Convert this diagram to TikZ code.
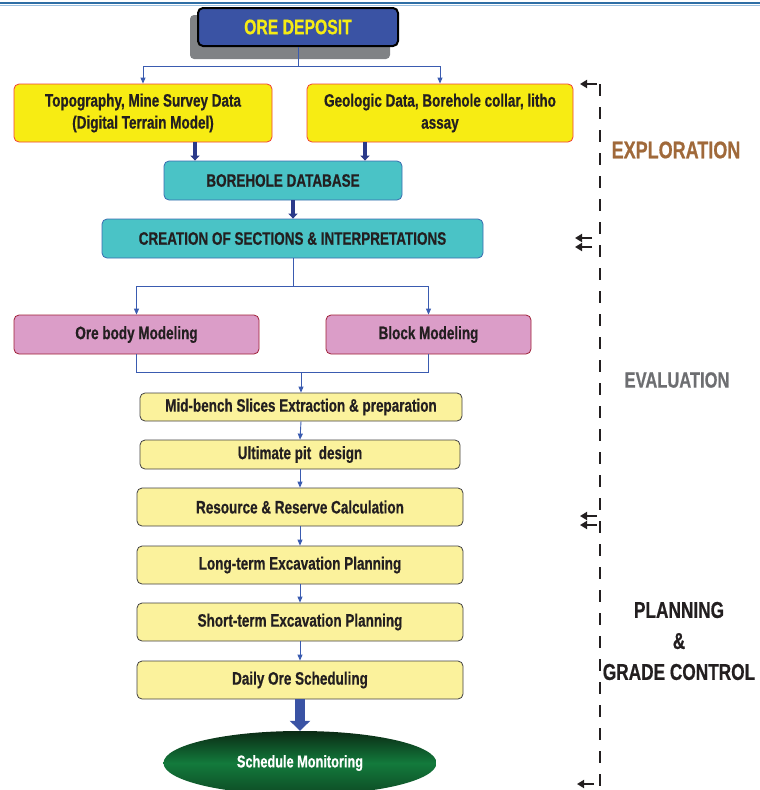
\documentclass[tikz,border=0pt]{standalone}
\usepackage{fontspec}
\setmainfont[FakeStretch=0.75,BoldFeatures={FakeStretch=0.75,FakeBold=0.6}]{Liberation Sans}
\usetikzlibrary{arrows.meta,shapes.geometric,calc}
\definecolor{oreblue}{HTML}{3A53A4}
\definecolor{oreyel}{HTML}{F5EB14}
\definecolor{yel}{HTML}{F7EC13}
\definecolor{redb}{HTML}{EF4136}
\definecolor{teal}{HTML}{4AC3C6}
\definecolor{tealb}{HTML}{3A6BB0}
\definecolor{pink}{HTML}{DB9DC8}
\definecolor{pinkb}{HTML}{9E1F36}
\definecolor{lyel}{HTML}{FBF29C}
\definecolor{lyelb}{HTML}{414042}
\definecolor{txt}{HTML}{231F20}
\definecolor{conn}{HTML}{3A5BB0}
\definecolor{navy}{HTML}{2B3A8A}
\definecolor{shadowg}{HTML}{808285}
\definecolor{brown}{HTML}{A0693A}
\definecolor{evalg}{HTML}{6D6E71}
\definecolor{rule}{HTML}{2F6EA5}
\definecolor{rulel}{HTML}{9CC0E0}
\definecolor{mong}{HTML}{137A3C}
\definecolor{mondark}{HTML}{0A2A14}
\begin{document}
\begin{tikzpicture}[x=1pt,y=-1pt,
  box/.style={draw, rounded corners=5pt, inner sep=0pt, align=center, text=txt, line width=0.8pt,
    font=\fontsize{18}{22}\selectfont\bfseries},
  ybox/.style={box, fill=yel, draw=redb},
  tbox/.style={box, fill=teal, draw=tealb},
  pbox/.style={box, fill=pink, draw=pinkb},
  lbox/.style={box, fill=lyel, draw=lyelb},
  cline/.style={draw=conn, line width=0.9pt},
  carr/.style={cline, -{Triangle[length=6pt,width=5pt]}},
  fat/.style={draw=navy, line width=4pt, -{Triangle[length=5pt,width=9pt]}},
  dline/.style={draw=txt, line width=2.6pt, dash pattern=on 12pt off 11pt},
  larr/.style={draw=txt, line width=2.6pt, -{Triangle[length=7pt,width=8pt]}},
  phase/.style={font=\fontsize{24}{31}\selectfont\bfseries, align=center, inner sep=0pt}
]
\useasboundingbox (0,0) rectangle (760,790);
% top rule
\draw[rule, line width=2pt] (0,3) -- (760,3);
\draw[rulel, line width=1pt] (0,5.5) -- (760,5.5);

% ORE DEPOSIT with shadow
\fill[shadowg, rounded corners=4pt] (190,15) rectangle (390,59);
\node[draw=black, line width=2pt, fill=oreblue, rounded corners=5pt, minimum width=200pt, minimum height=38pt,
  text=oreyel, font=\fontsize{21}{24}\selectfont\bfseries, inner sep=0pt] (ore) at (298,27) {ORE DEPOSIT};

\node[ybox, minimum width=258pt, minimum height=58pt] (topo) at (143,113) {Topography, Mine Survey Data\\(Digital Terrain Model)};
\node[ybox, minimum width=266pt, minimum height=58pt] (geo) at (440,113) {Geologic Data, Borehole collar, litho\\assay};
\node[tbox, minimum width=238pt, minimum height=39pt] (bore) at (283,180.5) {BOREHOLE DATABASE};
\node[tbox, minimum width=381pt, minimum height=39pt] (sect) at (292.5,238.5) {CREATION OF SECTIONS \& INTERPRETATIONS};
\node[pbox, minimum width=245pt, minimum height=39pt] (orebody) at (136.5,334.5) {Ore body Modeling};
\node[pbox, minimum width=205pt, minimum height=39pt] (block) at (428.5,334.5) {Block Modeling};
\node[lbox, minimum width=322pt, minimum height=28pt] (mid) at (301,407) {Mid-bench Slices Extraction \& preparation};
\node[lbox, minimum width=320pt, minimum height=29pt] (ult) at (300,454.5) {Ultimate pit~~design};
\node[lbox, minimum width=326pt, minimum height=38pt] (res) at (300,507) {Resource \& Reserve Calculation};
\node[lbox, minimum width=326pt, minimum height=38pt] (long) at (300,565) {Long-term Excavation Planning};
\node[lbox, minimum width=326pt, minimum height=38pt] (short) at (300,622) {Short-term Excavation Planning};
\node[lbox, minimum width=326pt, minimum height=38pt] (daily) at (300,680) {Daily Ore Scheduling};
\node[ellipse, minimum width=273pt, minimum height=64pt, inner sep=0pt,
  top color=mondark, bottom color=mondark!60!mong, middle color=mong,
  text=white, font=\fontsize{17}{20}\selectfont\bfseries] (mon) at (300,763) {Schedule Monitoring};

% connectors
\coordinate (j1) at (298,66);
\draw[cline] (ore.south) -- (j1);
\draw[carr] (j1) -| (topo.north);
\draw[carr] (j1) -| (geo.north);
\coordinate (x1) at (195,0);
\coordinate (x2) at (365,0);
\draw[fat] (topo.south -| x1) -- (bore.north -| x1);
\draw[fat] (geo.south -| x2) -- (bore.north -| x2);
\coordinate (x3) at (293,0);
\draw[fat] (bore.south -| x3) -- (sect.north -| x3);
\coordinate (j2) at (293,286);
\draw[cline] (sect.south -| x3) -- (j2);
\draw[carr] (j2) -| (orebody.north);
\draw[carr] (j2) -| (block.north);
\coordinate (j3) at (301,372);
\draw[cline] (orebody.south) -- (orebody.south |- j3) -- (block.south |- j3) -- (block.south);
\draw[carr] (j3) -- (mid.north);
\draw[carr] (mid.south) -- (ult.north);
\draw[carr] (ult.south) -- (res.north);
\draw[carr] (res.south) -- (long.north);
\draw[carr] (long.south) -- (short.north);
\draw[carr] (short.south) -- (daily.north);
\draw[draw=oreblue, line width=10pt, -{Triangle[length=10pt,width=20pt]}] (daily.south) -- (mon.north);

% right side phase markers
\coordinate (dtop) at (600,84);
\coordinate (dbot) at (600,788);
\draw[dline] (dtop) -- (dbot);
\coordinate (a1s) at (597,84);  \coordinate (a1e) at (580,84);
\coordinate (a2s) at (592,238); \coordinate (a2e) at (575,238);
\coordinate (a3s) at (592,247); \coordinate (a3e) at (575,247);
\coordinate (a4s) at (597,516); \coordinate (a4e) at (580,516);
\coordinate (a5s) at (597,525); \coordinate (a5e) at (580,525);
\coordinate (a6s) at (594,784); \coordinate (a6e) at (577,784);
\draw[larr] (a1s) -- (a1e);
\draw[larr] (a2s) -- (a2e);
\draw[larr] (a3s) -- (a3e);
\draw[larr] (a4s) -- (a4e);
\draw[larr] (a5s) -- (a5e);
\draw[larr] (a6s) -- (a6e);

\node[phase, text=brown] (expl) at (676,150) {EXPLORATION};
\node[phase, text=evalg, font=\fontsize{22}{28}\selectfont\bfseries] (eval) at (677,380) {EVALUATION};
\node[phase, text=txt, font=\fontsize{23}{31}\selectfont\bfseries] (plan) at (679,641) {PLANNING\\\&\\GRADE CONTROL};
\end{tikzpicture}
\end{document}
